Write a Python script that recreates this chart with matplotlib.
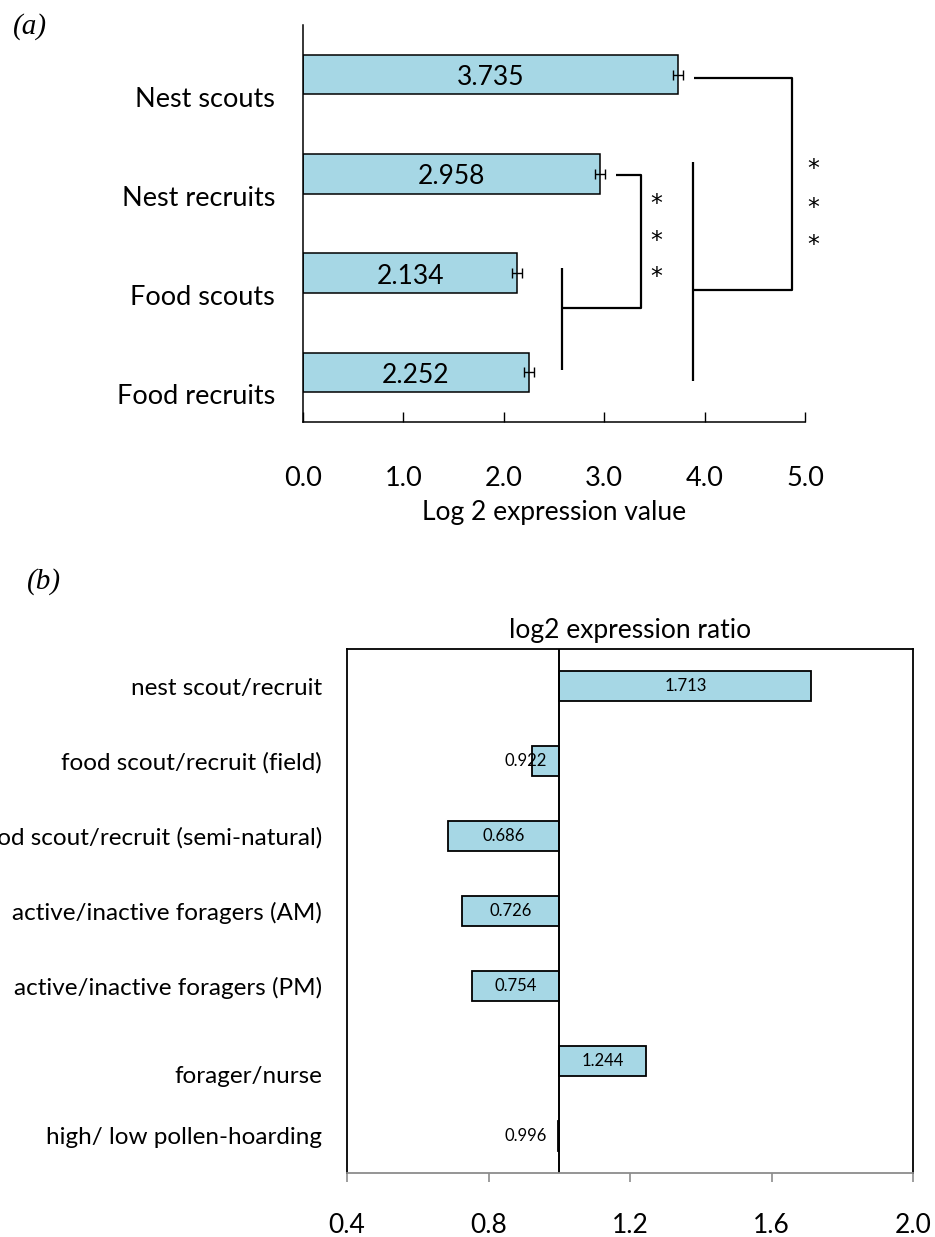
import matplotlib
matplotlib.use('Agg')
import matplotlib.pyplot as plt
import matplotlib.transforms as mtransforms
import numpy as np

plt.rcParams['font.family'] = ['Lato', 'DejaVu Sans']

# panel (a) data
groups_a = ['Nest scouts', 'Nest recruits', 'Food scouts', 'Food recruits']
values_a = [3.735, 2.958, 2.134, 2.252]
errors_a = [0.05, 0.045, 0.05, 0.05]
ticks_a = [0.0, 1.0, 2.0, 3.0, 4.0, 5.0]

# panel (b) data
comparisons_b = ['nest scout/recruit', 'food scout/recruit (field)',
                 'food scout/recruit (semi-natural)', 'active/inactive foragers (AM)',
                 'active/inactive foragers (PM)', 'forager/nurse',
                 'high/ low pollen-hoarding']
ratios_b = [1.713, 0.922, 0.686, 0.726, 0.754, 1.244, 0.996]
ticks_b = [0.4, 0.8, 1.2, 1.6, 2.0]

bar_color = '#A6D7E5'
W, H = 935, 1237
fig = plt.figure(figsize=(W / 100, H / 100), dpi=100)

# ---------------- panel (a) ----------------
ax1 = fig.add_axes([303 / W, 1 - 422 / H, 502 / W, 397 / H])
ya = np.arange(len(groups_a))
ax1.barh(ya, values_a, height=0.4, color=bar_color, edgecolor='black', linewidth=1.1)
ax1.errorbar(values_a, ya, xerr=errors_a, fmt='none', ecolor='black',
             elinewidth=1.0, capsize=3.5, capthick=1.0)
for y, v in zip(ya, values_a):
    ax1.text(v / 2, y + 0.03, f'{v:.3f}', ha='center', va='center', fontsize=19)

ax1.set_xlim(0, 5)
ax1.set_ylim(len(groups_a) - 0.5, -0.5)
ax1.set_xticks(ticks_a)
ax1.set_xticklabels([f'{t:.1f}' for t in ticks_a], fontsize=19.5)
ax1.tick_params(axis='x', direction='in', length=7.5, width=1.0, pad=32)
ax1.set_yticks(ya)
ax1.set_yticklabels(groups_a, fontsize=19.5)
ax1.tick_params(axis='y', length=0, pad=20)
off = mtransforms.ScaledTranslation(0, -0.22, fig.dpi_scale_trans)
for lab in ax1.get_yticklabels():
    lab.set_transform(lab.get_transform() + off)
for s in ['top', 'right']:
    ax1.spines[s].set_visible(False)
for s in ['left', 'bottom']:
    ax1.spines[s].set_linewidth(1.1)
ax1.set_xlabel('Log 2 expression value', fontsize=19, labelpad=6)

# significance brackets
bk = dict(color='black', lw=1.6, clip_on=False, solid_capstyle='butt')
ax1.plot([3.12, 3.37, 3.37, 2.58], [1.01, 1.01, 2.35, 2.35], **bk)
ax1.plot([2.58, 2.58], [1.95, 2.98], **bk)
ax1.plot([3.89, 4.87, 4.87, 3.88], [0.035, 0.035, 2.17, 2.17], **bk)
ax1.plot([3.88, 3.88], [0.88, 3.09], **bk)
for yy in [1.30, 1.68, 2.04]:
    ax1.text(3.52, yy, '*', ha='center', va='center', fontsize=17, family='DejaVu Sans')
for yy in [0.95, 1.34, 1.72]:
    ax1.text(5.08, yy, '*', ha='center', va='center', fontsize=17, family='DejaVu Sans')

fig.text(30 / W, 1 - 27 / H, '(a)', fontsize=21, style='italic',
         family='Liberation Serif', ha='center', va='center')

# ---------------- panel (b) ----------------
ax2 = fig.add_axes([347 / W, 1 - 1173 / H, 566 / W, 524 / H])
yb = np.arange(len(comparisons_b))
ax2.barh(yb, [r - 1 for r in ratios_b], left=1.0, height=0.4,
         color=bar_color, edgecolor='black', linewidth=1.3)
ax2.axvline(1.0, color='black', lw=1.4)
for y, r in zip(yb, ratios_b):
    if abs(r - 1) < 0.1:
        ax2.annotate(f'{r:.3f}', (1.0, y), xytext=(-9, 0), textcoords='offset points',
                     ha='right', va='center', fontsize=12)
    else:
        ax2.text((1 + r) / 2, y, f'{r:.3f}', ha='center', va='center', fontsize=12)

ax2.set_xlim(0.4, 2.0)
ax2.set_ylim(len(comparisons_b) - 0.5, -0.5)
ax2.set_xticks(ticks_b)
ax2.set_xticklabels([f'{t:.1f}' for t in ticks_b], fontsize=19)
ax2.tick_params(axis='x', direction='out', length=6.5, width=1.2, color='#8c8c8c', pad=22)
ax2.set_yticks(yb)
ax2.set_yticklabels(comparisons_b, fontsize=17.5)
ax2.tick_params(axis='y', length=0, pad=18)
lab = ax2.get_yticklabels()[5]
lab.set_transform(lab.get_transform() + mtransforms.ScaledTranslation(0, -0.14, fig.dpi_scale_trans))
for s in ['top', 'left', 'right']:
    ax2.spines[s].set_linewidth(1.3)
ax2.spines['bottom'].set_color('#8c8c8c')
ax2.spines['bottom'].set_linewidth(1.3)
ax2.set_title('log2 expression ratio', fontsize=19, pad=8)

fig.text(44 / W, 1 - 582 / H, '(b)', fontsize=21, style='italic',
         family='Liberation Serif', ha='center', va='center')

fig.savefig('out.png', dpi=100)
